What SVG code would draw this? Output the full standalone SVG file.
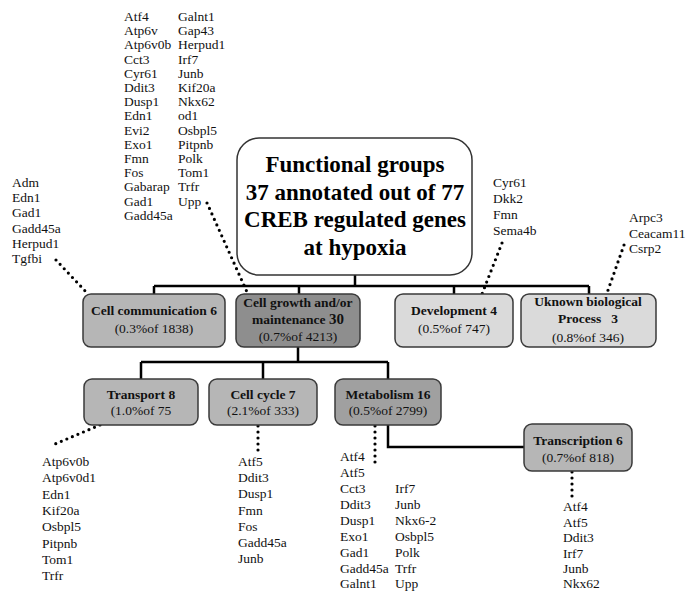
<svg xmlns="http://www.w3.org/2000/svg" width="686" height="592" viewBox="0 0 686 592">
<style>
.gene{font-family:"Liberation Serif","Times New Roman",serif;font-size:13.5px;fill:#111}
.lbl{font-family:"Liberation Serif","Times New Roman",serif;font-size:13.5px;fill:#111;text-anchor:middle}
.b{font-weight:bold}
.title{font-family:"Liberation Serif","Times New Roman",serif;font-size:23px;font-weight:bold;fill:#000;text-anchor:middle}
.box{stroke:#3a3a3a;stroke-width:1.5}
.mid{fill:#b6b6b6}
.dark{fill:#8e8e8e}
.met{fill:#a0a0a0}
.light{fill:#dadada}
.solid{stroke:#000;stroke-width:2.5;fill:none}
.dot{stroke:#000;stroke-width:3.2;stroke-linecap:round;stroke-dasharray:0 6;fill:none}
</style>
<rect width="686" height="592" fill="#fff"/>

<g id="connectors">
  <path class="solid" d="M355,275 V286 M154,286 H589 M154,286 V294 M299,286 V294 M454,286 V294 M589,286 V294"/>
  <path class="solid" d="M298,347 V362 M141,362 H388 M141,362 V379 M263,362 V379 M388,362 V379"/>
  <path class="solid" d="M388,425 V447 H524"/>
  <path class="dot" d="M56,260 L88,294"/>
  <path class="dot" d="M207,203 L247,292"/>
  <path class="dot" d="M502,243 L482,294"/>
  <path class="dot" d="M624,245 L607,293"/>
  <path class="dot" d="M100,425 L55,444"/>
  <path class="dot" d="M258,426 V456"/>
  <path class="dot" d="M375,426 V468"/>
  <path class="dot" d="M572,472 V500"/>
</g>

<g id="title">
  <rect x="237" y="138" width="235" height="137" rx="22" fill="#fff" stroke="#333" stroke-width="1.5"/>
  <text class="title" x="355" y="172">Functional groups</text>
  <text class="title" x="355" y="199.5">37 annotated out of 77</text>
  <text class="title" x="355" y="227">CREB regulated genes</text>
  <text class="title" x="355" y="254.5">at hypoxia</text>
</g>

<g id="cell-communication">
  <rect class="box mid" x="83" y="294" width="142" height="53" rx="8"/>
  <text class="lbl b" x="154" y="315">Cell communication 6</text>
  <text class="lbl" x="154" y="333">(0.3%of 1838)</text>
</g>
<g id="cell-growth">
  <rect class="box dark" x="236" y="294" width="124" height="53" rx="8"/>
  <text class="lbl b" x="298" y="307">Cell growth and/or</text>
  <text class="lbl b" x="298" y="324">maintenance <tspan font-size="15">30</tspan></text>
  <text class="lbl" x="298" y="341">(0.7%of 4213)</text>
</g>
<g id="development">
  <rect class="box light" x="395" y="294" width="118" height="53" rx="8"/>
  <text class="lbl b" x="454" y="315">Development 4</text>
  <text class="lbl" x="454" y="333">(0.5%of 747)</text>
</g>
<g id="unknown">
  <rect class="box light" x="521" y="294" width="135" height="53" rx="8"/>
  <text class="lbl b" x="588" y="306">Uknown biological</text>
  <text class="lbl b" x="588" y="323" xml:space="preserve">Process   3</text>
  <text class="lbl" x="588" y="342">(0.8%of 346)</text>
</g>
<g id="transport">
  <rect class="box mid" x="84" y="379" width="114" height="46" rx="8"/>
  <text class="lbl b" x="141" y="399">Transport 8</text>
  <text class="lbl" x="141" y="415">(1.0%of 75</text>
</g>
<g id="cell-cycle">
  <rect class="box mid" x="209" y="379" width="108" height="46" rx="8"/>
  <text class="lbl b" x="263" y="399">Cell cycle 7</text>
  <text class="lbl" x="263" y="415">(2.1%of 333)</text>
</g>
<g id="metabolism">
  <rect class="box met" x="335" y="379" width="106" height="46" rx="8"/>
  <text class="lbl b" x="388" y="399">Metabolism 16</text>
  <text class="lbl" x="388" y="415">(0.5%of 2799)</text>
</g>
<g id="transcription">
  <rect class="box mid" x="524" y="424" width="108" height="47" rx="8"/>
  <text class="lbl b" x="578" y="445">Transcription 6</text>
  <text class="lbl" x="578" y="462">(0.7%of 818)</text>
</g>

<g id="genes-cell-growth" class="gene">
  <text x="124" y="21">Atf4</text><text x="178" y="21">Galnt1</text>
  <text x="124" y="35.2">Atp6v</text><text x="178" y="35.2">Gap43</text>
  <text x="124" y="49.4">Atp6v0b</text><text x="178" y="49.4">Herpud1</text>
  <text x="124" y="63.6">Cct3</text><text x="178" y="63.6">Irf7</text>
  <text x="124" y="77.8">Cyr61</text><text x="178" y="77.8">Junb</text>
  <text x="124" y="92">Ddit3</text><text x="178" y="92">Kif20a</text>
  <text x="124" y="106.2">Dusp1</text><text x="178" y="106.2">Nkx62</text>
  <text x="124" y="120.4">Edn1</text><text x="178" y="120.4">od1</text>
  <text x="124" y="134.6">Evi2</text><text x="178" y="134.6">Osbpl5</text>
  <text x="124" y="148.8">Exo1</text><text x="178" y="148.8">Pitpnb</text>
  <text x="124" y="163">Fmn</text><text x="178" y="163">Polk</text>
  <text x="124" y="177.2">Fos</text><text x="178" y="177.2">Tom1</text>
  <text x="124" y="191.4">Gabarap</text><text x="178" y="191.4">Trfr</text>
  <text x="124" y="205.6">Gad1</text><text x="178" y="205.6">Upp</text>
  <text x="124" y="219.8">Gadd45a</text>
</g>
<g id="genes-cell-communication" class="gene">
  <text x="12" y="187">Adm</text>
  <text x="12" y="202.2">Edn1</text>
  <text x="12" y="217.4">Gad1</text>
  <text x="12" y="232.6">Gadd45a</text>
  <text x="12" y="247.8">Herpud1</text>
  <text x="12" y="263">Tgfbi</text>
</g>
<g id="genes-development" class="gene">
  <text x="493" y="187">Cyr61</text>
  <text x="493" y="203">Dkk2</text>
  <text x="493" y="219">Fmn</text>
  <text x="493" y="235">Sema4b</text>
</g>
<g id="genes-unknown" class="gene">
  <text x="629" y="222">Arpc3</text>
  <text x="629" y="237.5">Ceacam11</text>
  <text x="629" y="253">Csrp2</text>
</g>
<g id="genes-transport" class="gene">
  <text x="42" y="466">Atp6v0b</text>
  <text x="42" y="482.3">Atp6v0d1</text>
  <text x="42" y="498.6">Edn1</text>
  <text x="42" y="514.9">Kif20a</text>
  <text x="42" y="531.2">Osbpl5</text>
  <text x="42" y="547.5">Pitpnb</text>
  <text x="42" y="563.8">Tom1</text>
  <text x="42" y="580">Trfr</text>
</g>
<g id="genes-cell-cycle" class="gene">
  <text x="238" y="466">Atf5</text>
  <text x="238" y="482.2">Ddit3</text>
  <text x="238" y="498.4">Dusp1</text>
  <text x="238" y="514.6">Fmn</text>
  <text x="238" y="530.8">Fos</text>
  <text x="238" y="547">Gadd45a</text>
  <text x="238" y="563.2">Junb</text>
</g>
<g id="genes-metabolism" class="gene">
  <text x="340" y="461">Atf4</text>
  <text x="340" y="477">Atf5</text>
  <text x="340" y="493">Cct3</text><text x="395" y="493">Irf7</text>
  <text x="340" y="509">Ddit3</text><text x="395" y="509">Junb</text>
  <text x="340" y="525">Dusp1</text><text x="395" y="525">Nkx6-2</text>
  <text x="340" y="541">Exo1</text><text x="395" y="541">Osbpl5</text>
  <text x="340" y="557">Gad1</text><text x="395" y="557">Polk</text>
  <text x="340" y="573">Gadd45a</text><text x="395" y="573">Trfr</text>
  <text x="340" y="588">Galnt1</text><text x="395" y="588">Upp</text>
</g>
<g id="genes-transcription" class="gene">
  <text x="563" y="511">Atf4</text>
  <text x="563" y="526.5">Atf5</text>
  <text x="563" y="542">Ddit3</text>
  <text x="563" y="557.5">Irf7</text>
  <text x="563" y="573">Junb</text>
  <text x="563" y="588">Nkx62</text>
</g>
</svg>
